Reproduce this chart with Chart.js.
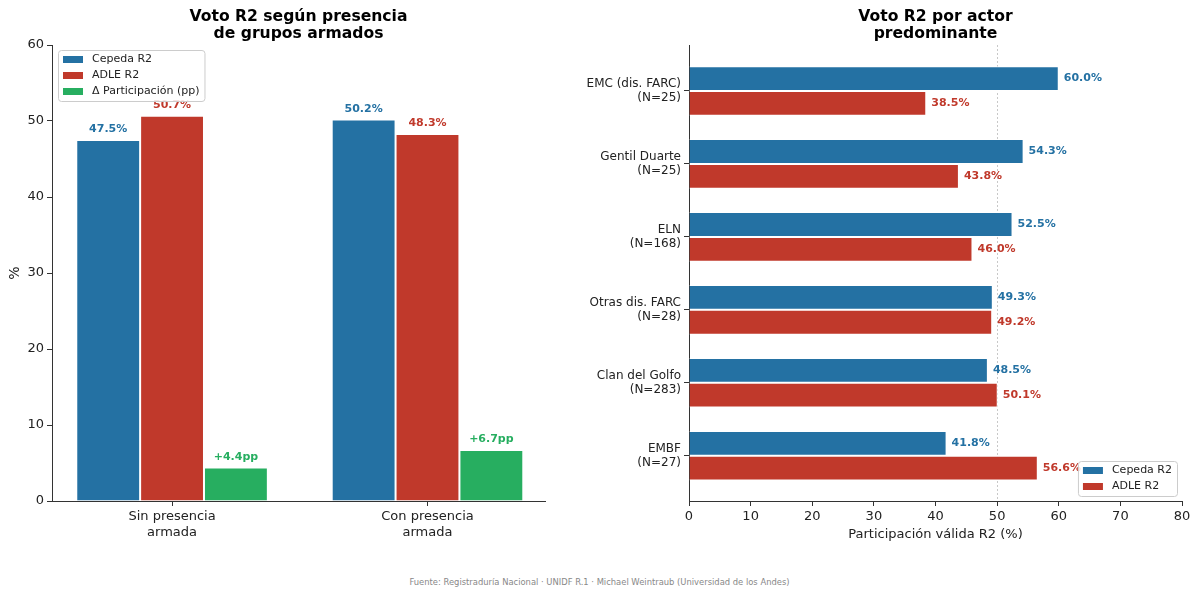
<!DOCTYPE html>
<html>
<head>
<meta charset="utf-8">
<script src="https://cdn.jsdelivr.net/npm/chart.js@4"></script>
<style>
  body { margin: 0; background: #fff; width: 1199px; height: 595px; overflow: hidden; position: relative; font-family: "DejaVu Sans", sans-serif; }
  .box { position: absolute; top: 0; height: 550px; }
  #foot { position: absolute; left: 0; width: 1199px; top: 577px; text-align: center; font-size: 8.4px; color: #888; }
</style>
</head>
<body>
<div class="box" style="left:0;width:560px"><canvas id="chartLeft"></canvas></div>
<div class="box" style="left:580px;width:619px"><canvas id="chartRight"></canvas></div>
<div id="foot">Fuente: Registraduría Nacional · UNIDF R.1 · Michael Weintraub (Universidad de los Andes)</div>
<script>
// left panel
const presencia = [["Sin presencia", "armada"], ["Con presencia", "armada"]];
const cepedaPres = [47.5, 50.2];
const adlePres = [50.7, 48.3];
const deltaPart = [4.4, 6.7];

// right panel
const actores = [
  ["EMC (dis. FARC)", "(N=25)"],
  ["Gentil Duarte", "(N=25)"],
  ["ELN", "(N=168)"],
  ["Otras dis. FARC", "(N=28)"],
  ["Clan del Golfo", "(N=283)"],
  ["EMBF", "(N=27)"]
];
const cepedaActor = [60.0, 54.3, 52.5, 49.3, 48.5, 41.8];
const adleActor = [38.5, 43.8, 46.0, 49.2, 50.1, 56.6];

const BLUE = "#2471a3", RED = "#c0392b", GREEN = "#27ae60";
const FONT = "'DejaVu Sans', sans-serif";
const AXIS = "#333";

Chart.defaults.font.family = FONT;
Chart.defaults.color = "#222";
Chart.defaults.animation = false;

// bars sit on numeric positions 0..n-1 so the axis margins can match the original
const atX = vals => vals.map((v, i) => ({ x: i, y: v }));
const atY = vals => vals.map((v, i) => ({ x: v, y: i }));
const indexTicks = list => s => { s.ticks = list.map((_, i) => ({ value: i })); };

const titlePlugin = {
  id: "areaTitle",
  afterDraw(chart, args, opts) {
    const { ctx, chartArea } = chart;
    const cx = (chartArea.left + chartArea.right) / 2;
    ctx.save();
    ctx.font = "bold 15.6px " + FONT;
    ctx.fillStyle = "#000";
    ctx.textAlign = "center";
    ctx.textBaseline = "middle";
    opts.lines.forEach((l, i) => ctx.fillText(l, cx, 17 + i * 17));
    ctx.restore();
  }
};

const labelPlugin = {
  id: "barLabels",
  afterDatasetsDraw(chart, args, opts) {
    const { ctx } = chart;
    const horiz = chart.options.indexAxis === "y";
    ctx.save();
    ctx.font = "bold 11px " + FONT;
    chart.data.datasets.forEach((ds, di) => {
      const meta = chart.getDatasetMeta(di);
      ctx.fillStyle = ds.backgroundColor;
      meta.data.forEach((bar, i) => {
        const v = horiz ? ds.data[i].x : ds.data[i].y;
        const txt = opts.format(v, di);
        if (horiz) {
          ctx.textAlign = "left";
          ctx.textBaseline = "middle";
          ctx.fillText(txt, bar.x + 5, bar.y);
        } else {
          ctx.textAlign = "center";
          ctx.textBaseline = "bottom";
          ctx.fillText(txt, bar.x, bar.y - 5);
        }
      });
    });
    ctx.restore();
  }
};

const legendPlugin = {
  id: "boxLegend",
  afterDraw(chart, args, opts) {
    const { ctx, chartArea } = chart;
    ctx.save();
    ctx.font = "11px " + FONT;
    const items = chart.data.datasets;
    const tw = Math.max(...items.map(d => ctx.measureText(d.label).width));
    const w = 5 + 20 + 9 + tw + 5, rowH = 16, h = items.length * rowH + 3;
    const x = opts.corner === "tl" ? chartArea.left + 6 : chartArea.right - 5 - w;
    const y = opts.corner === "tl" ? chartArea.top + 5 : chartArea.bottom - 5 - h;
    ctx.fillStyle = "rgba(255,255,255,0.85)";
    ctx.strokeStyle = "#ccc";
    ctx.lineWidth = 1;
    ctx.beginPath();
    ctx.roundRect(x + 0.5, y + 0.5, w, h, 3);
    ctx.fill();
    ctx.stroke();
    ctx.textBaseline = "middle";
    ctx.textAlign = "left";
    items.forEach((d, i) => {
      const cy = y + 9.5 + i * rowH;
      ctx.fillStyle = d.backgroundColor;
      ctx.fillRect(x + 5, cy - 3.5, 20, 7);
      ctx.fillStyle = "#222";
      ctx.fillText(d.label, x + 34, cy);
    });
    ctx.restore();
  }
};

new Chart(document.getElementById("chartLeft"), {
  type: "bar",
  data: {
    datasets: [
      { label: "Cepeda R2", data: atX(cepedaPres), backgroundColor: BLUE },
      { label: "ADLE R2", data: atX(adlePres), backgroundColor: RED },
      { label: "Δ Participación (pp)", data: atX(deltaPart), backgroundColor: GREEN }
    ]
  },
  options: {
    responsive: true,
    maintainAspectRatio: false,
    layout: { padding: { top: 45, right: 15, left: 0, bottom: 0 } },
    datasets: { bar: { borderColor: "#fff", borderWidth: 1, categoryPercentage: 0.75, barPercentage: 1 } },
    scales: {
      x: {
        type: "linear", min: -0.47, max: 1.46, offset: false,
        grid: { drawOnChartArea: false, offset: false, tickLength: 5, color: AXIS },
        border: { color: AXIS, width: 1 },
        afterBuildTicks: indexTicks(presencia),
        ticks: { font: { size: 13 }, color: "#222", padding: 3, callback: v => presencia[v] },
        afterFit: s => { s.height = 49; }
      },
      y: {
        min: 0, max: 60,
        grid: { drawOnChartArea: false, tickLength: 5, color: AXIS },
        border: { color: AXIS, width: 1 },
        ticks: { stepSize: 10, font: { size: 13 }, color: "#222", padding: 3 },
        title: { display: true, text: "%", font: { size: 14 }, padding: { top: 7, bottom: 0 } },
        afterFit: s => { s.width = 52; }
      }
    },
    plugins: {
      legend: { display: false },
      tooltip: { enabled: false },
      areaTitle: { lines: ["Voto R2 según presencia", "de grupos armados"] },
      barLabels: { format: (v, di) => di === 2 ? "+" + v.toFixed(1) + "pp" : v.toFixed(1) + "%" },
      boxLegend: { corner: "tl" }
    }
  },
  plugins: [titlePlugin, labelPlugin, legendPlugin]
});

new Chart(document.getElementById("chartRight"), {
  type: "bar",
  data: {
    datasets: [
      { label: "Cepeda R2", data: atY(cepedaActor), backgroundColor: BLUE },
      { label: "ADLE R2", data: atY(adleActor), backgroundColor: RED }
    ]
  },
  options: {
    indexAxis: "y",
    responsive: true,
    maintainAspectRatio: false,
    layout: { padding: { top: 45, right: 17, left: 0, bottom: 6 } },
    datasets: { bar: { borderColor: "#fff", borderWidth: 1, categoryPercentage: 0.68, barPercentage: 1 } },
    scales: {
      x: {
        min: 0, max: 80,
        grid: {
          drawOnChartArea: true, drawTicks: true, tickLength: 5,
          color: c => c.type === "tick" && c.tick.value === 50 ? "#c8c8c8" : "rgba(0,0,0,0)",
          tickColor: AXIS,
          tickBorderDash: [],
          lineWidth: 1
        },
        border: { color: AXIS, width: 1, dash: [2, 2] },
        ticks: { stepSize: 10, font: { size: 13 }, color: "#222", padding: 3 },
        title: { display: true, text: "Participación válida R2 (%)", font: { size: 13 }, padding: { top: 2, bottom: 2 } },
        afterFit: s => { s.height = 43; }
      },
      y: {
        type: "linear", min: -0.63, max: 5.62, reverse: true, offset: false,
        grid: { drawOnChartArea: false, offset: false, tickLength: 5, color: AXIS },
        border: { color: AXIS, width: 1 },
        afterBuildTicks: indexTicks(actores),
        ticks: { font: { size: 12 }, color: "#222", padding: 3, callback: v => actores[v] },
        afterFit: s => { s.width = 109; }
      }
    },
    plugins: {
      legend: { display: false },
      tooltip: { enabled: false },
      areaTitle: { lines: ["Voto R2 por actor", "predominante"] },
      barLabels: { format: v => v.toFixed(1) + "%" },
      boxLegend: { corner: "br" }
    }
  },
  plugins: [titlePlugin, labelPlugin, legendPlugin]
});
</script>
</body>
</html>
